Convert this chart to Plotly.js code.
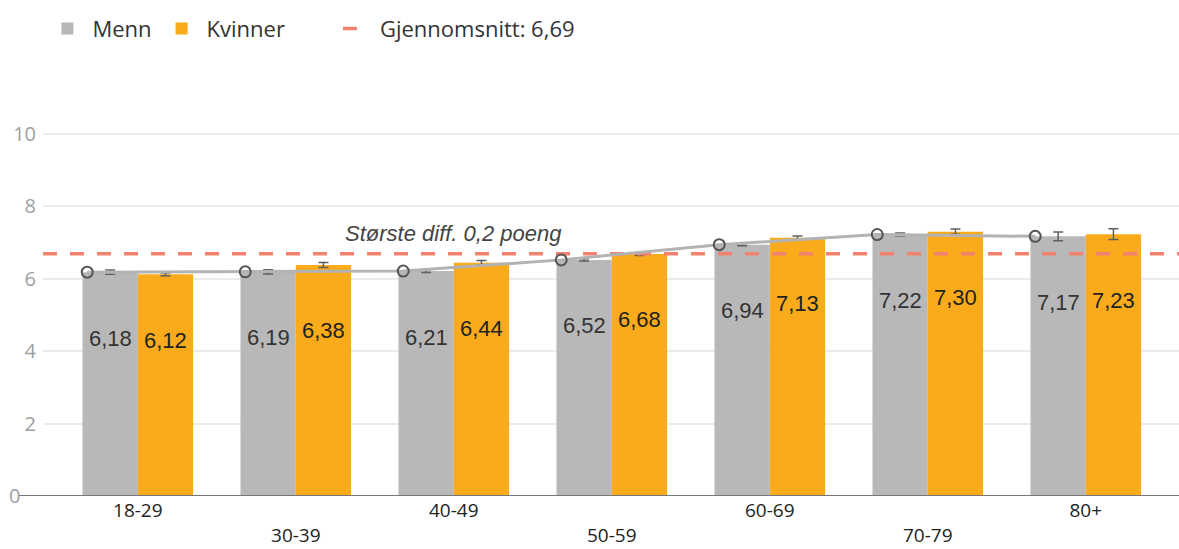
<!DOCTYPE html>
<html>
<head>
<meta charset="utf-8">
<script src="https://cdn.plot.ly/plotly-3.0.1.min.js"></script>
<style>html,body{margin:0;padding:0;background:#fff;}#chart{width:1179px;height:549px;}</style>
</head>
<body>
<div id="chart"></div>
<script>
// ---- data ----
var categories = ["18-29", "30-39", "40-49", "50-59", "60-69", "70-79", "80+"];
var menn = [6.18, 6.19, 6.21, 6.52, 6.94, 7.22, 7.17];
var kvinner = [6.12, 6.38, 6.44, 6.68, 7.13, 7.30, 7.23];
var mennErr = [0.06, 0.06, 0.04, 0.03, 0.03, 0.04, 0.12];
var kvinnerErr = [0.04, 0.07, 0.06, 0.04, 0.05, 0.07, 0.15];
var snitt = 6.69;
var seriesNames = ["Menn", "Kvinner"];
var snittLabel = "Gjennomsnitt: 6,69";
var noteText = "Største diff. 0,2 poeng";
var noteY = 7.24;
var noteCat = 2;
var yTicks = [0, 2, 4, 6, 8, 10];

// ---- helpers ----
var NB = "\u00a0";
var pad = function (n) { return new Array(n + 1).join(NB); };
var xIdx = categories.map(function (c, i) { return i; });
var xMin = -0.60, xMax = 6.59;
var fmt = function (v) { return v.toFixed(2).replace(".", ","); };
var tickText = categories.map(function (c, i) { return i % 2 === 0 ? c : "<br>" + c; });
var avgColor = "#F2826F";

var traces = [
  {
    type: "bar", name: seriesNames[0], x: xIdx, y: menn,
    marker: { color: "#B8B8B8" },
    error_y: { type: "data", array: mennErr, visible: true, color: "#5f5f5f", thickness: 1.5, width: 5 },
    hoverinfo: "skip"
  },
  {
    type: "bar", name: seriesNames[1] + pad(7), x: xIdx, y: kvinner,
    marker: { color: "#F9AB1B" },
    error_y: { type: "data", array: kvinnerErr, visible: true, color: "#5f5f5f", thickness: 1.5, width: 5 },
    hoverinfo: "skip"
  },
  {
    // legend entry only (single point -> no visible line in the plot)
    type: "scatter", mode: "lines", name: snittLabel,
    x: [xMin], y: [snitt],
    line: { color: avgColor, width: 3.5, dash: "0px,8px,14px,40px" },
    hoverinfo: "skip"
  },
  {
    type: "scatter", mode: "lines", showlegend: false,
    x: [xMin, xMax], y: [snitt, snitt],
    line: { color: avgColor, width: 3.5, dash: "14px,13px" },
    hoverinfo: "skip"
  },
  {
    type: "scatter", mode: "lines+markers", showlegend: false,
    x: xIdx.map(function (i) { return i - 0.32; }), y: menn,
    line: { color: "#B3B3B3", width: 3 },
    marker: { symbol: "circle-open", size: 11, color: "#555", line: { width: 2, color: "#555" } },
    hoverinfo: "skip"
  }
];

var annotations = [];
xIdx.forEach(function (i) {
  annotations.push({ x: i - 0.175, y: menn[i] - 1.82, xref: "x", yref: "y", text: fmt(menn[i]), showarrow: false,
    font: { family: "Liberation Sans, Arial", size: 22, color: "#333" }, xanchor: "center", yanchor: "middle" });
  annotations.push({ x: i + 0.175, y: kvinner[i] - 1.82, xref: "x", yref: "y", text: fmt(kvinner[i]), showarrow: false,
    font: { family: "Liberation Sans, Arial", size: 22, color: "#222" }, xanchor: "center", yanchor: "middle" });
});
annotations.push({ x: noteCat, y: noteY, xref: "x", yref: "y", text: "<i>" + noteText + "</i>", showarrow: false,
  font: { family: "Liberation Sans, Arial", size: 22, color: "#444" }, xanchor: "center", yanchor: "middle" });

var layout = {
  width: 1179, height: 549,
  margin: { l: 43, r: 0, t: 119, b: 53 },
  paper_bgcolor: "#fff", plot_bgcolor: "#fff",
  barmode: "group", bargap: 0.3, bargroupgap: 0,
  showlegend: true,
  legend: {
    orientation: "h", xref: "container", yref: "container", x: 0.036, y: 0.986, xanchor: "left", yanchor: "top",
    font: { family: "Open Sans, Noto Sans", size: 22, color: "#333" },
    itemwidth: 40, traceorder: "normal"
  },
  xaxis: {
    range: [xMin, xMax], tickmode: "array", tickvals: xIdx, ticktext: tickText,
    showgrid: false, zeroline: false, showline: false, ticks: "",
    tickfont: { family: "Open Sans, Noto Sans", size: 19, color: "#222" },
    ticklabelstandoff: 1, fixedrange: true
  },
  yaxis: {
    range: [0, 10.41], tickmode: "array", tickvals: yTicks,
    ticktext: yTicks.map(function (v) { return v === 0 ? v + pad(3) : String(v); }),
    showgrid: true, gridcolor: "#EBEBEB", gridwidth: 2, zeroline: false, showline: false,
    tickfont: { family: "Open Sans, Noto Sans", size: 20, color: "#A0A0A0" },
    ticklabelstandoff: 6, fixedrange: true
  },
  shapes: [
    { type: "line", xref: "paper", yref: "y", x0: -0.021, x1: 1, y0: 0, y1: 0, line: { color: "#777", width: 2 }, layer: "above" }
  ],
  annotations: annotations
};

Plotly.newPlot("chart", traces, layout, { displayModeBar: false, staticPlot: true });
</script>
</body>
</html>
